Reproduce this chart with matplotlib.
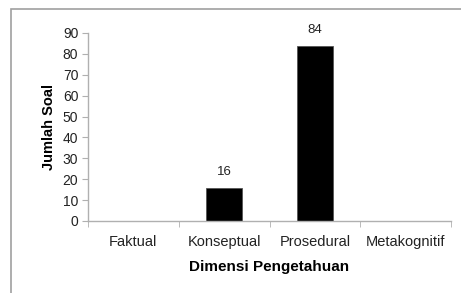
import matplotlib
matplotlib.use("Agg")
import matplotlib.pyplot as plt
from matplotlib.patches import Rectangle

categories = ["Faktual", "Konseptual", "Prosedural", "Metakognitif"]
values = [0, 16, 84, 0]
yticks = [0, 10, 20, 30, 40, 50, 60, 70, 80, 90]

plt.rcParams['font.family'] = ['Liberation Sans', 'DejaVu Sans']

fig = plt.figure(figsize=(4.61, 2.93), dpi=100)
fig.patch.set_facecolor('white')
fig.patches.append(Rectangle((11/461, -0.1), 1.2, 1 - 9/293 + 0.1, transform=fig.transFigure,
                             fill=False, edgecolor='#a0a0a0', linewidth=1.2))

ax = fig.add_axes([88/461, 1 - 221/293, (451 - 88)/461, (221 - 33)/293])
x = list(range(len(categories)))
bars = ax.bar(x, values, width=0.4, color='black', edgecolor='#555555', linewidth=0.6)
for xi, v in zip(x, values):
    if v > 0:
        ax.annotate(str(v), (xi, v), xytext=(0, 7), textcoords='offset points',
                    ha='center', va='bottom', fontsize=9.5, color='#222222')

ax.set_xlim(-0.5, len(categories) - 0.5)
ax.set_ylim(0, 90)
ax.set_yticks(yticks)
ax.set_xticks(x)
ax.set_xticklabels(categories, fontsize=10.5, color='#222222')
ax.set_xticks([i - 0.5 for i in range(len(categories) + 1)], minor=True)
ax.tick_params(axis='x', which='major', length=0, pad=10)
ax.tick_params(axis='x', which='minor', length=4, color='#b0b0b0')
ax.tick_params(axis='y', length=4, color='#b0b0b0', labelsize=10, labelcolor='#222222', pad=3)
for s in ['top', 'right']:
    ax.spines[s].set_visible(False)
for s in ['left', 'bottom']:
    ax.spines[s].set_color('#b0b0b0')
    ax.spines[s].set_linewidth(1.0)

ax.set_xlabel("Dimensi Pengetahuan", fontsize=11, fontweight='bold', labelpad=8)
ax.set_ylabel("Jumlah Soal", fontsize=10.5, fontweight='bold', labelpad=5)

fig.savefig("out.png", dpi=100)
